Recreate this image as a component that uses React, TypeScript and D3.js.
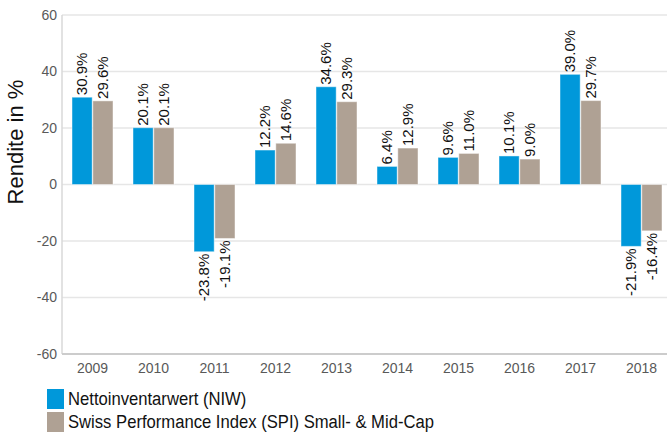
import React from 'react';
import * as d3 from 'd3';

const years = ['2009', '2010', '2011', '2012', '2013', '2014', '2015', '2016', '2017', '2018'];
const niw = [30.9, 20.1, -23.8, 12.2, 34.6, 6.4, 9.6, 10.1, 39.0, -21.9];
const spi = [29.6, 20.1, -19.1, 14.6, 29.3, 12.9, 11.0, 9.0, 29.7, -16.4];
const yTicks = [-60, -40, -20, 0, 20, 40, 60];
const seriesNames = ['Nettoinventarwert (NIW)', 'Swiss Performance Index (SPI) Small- & Mid-Cap'];
const seriesColors = ['#0098DA', '#AFA194'];

const width = 667;
const height = 432;
const font = 'Liberation Sans, Arial, sans-serif';

const App = () => {
  const x0 = d3.scaleBand<string>().domain(years).range([62, 672]);
  const x1 = d3.scaleBand<number>().domain([0, 1]).range([10, 51]).paddingInner(0.03);
  const y = d3.scaleLinear().domain([-60, 60]).range([354, 15]);
  const series = [niw, spi];

  return (
    <svg width={width} height={height} style={{ position: 'absolute', left: 0, top: 0, fontFamily: font }}>
      <rect width={width} height={height} fill="#fff" />
      {/* grid */}
      {yTicks.map((t) => (
        <g key={t}>
          {t !== -60 && (
            <line x1={62} x2={width} y1={y(t)} y2={y(t)} stroke="#e6e6e6" strokeWidth={1.5} />
          )}
          <text x={57} y={y(t)} dy="0.35em" textAnchor="end" fontSize={14} fill="#595959">
            {t}
          </text>
        </g>
      ))}
      <line x1={62} x2={62} y1={15} y2={354} stroke="#d9d9d9" strokeWidth={1.5} />
      <line x1={62} x2={width} y1={354} y2={354} stroke="#cccccc" strokeWidth={2} />

      {/* bars */}
      {years.map((yr, i) => (
        <g key={yr} transform={`translate(${x0(yr)},0)`}>
          {series.map((vals, s) => {
            const v = vals[i];
            const bx = x1(s)!;
            const bw = x1.bandwidth();
            const top = y(Math.max(0, v));
            const bot = y(Math.min(0, v));
            const cx = bx + bw / 2;
            const ly = v >= 0 ? top - 2 : bot + 2;
            return (
              <g key={s}>
                <rect x={bx} y={top} width={bw} height={bot - top} fill={seriesColors[s]}
                  stroke="#fff" strokeOpacity={0.45} strokeWidth={1} />
                <text transform={`translate(${cx},${ly}) rotate(-90)`} dy="0.35em"
                  textAnchor={v >= 0 ? 'start' : 'end'} fontSize={15} fill="#111">
                  {v.toFixed(1) + '%'}
                </text>
              </g>
            );
          })}
          <text x={x0.bandwidth() / 2} y={368} dy="0.35em" textAnchor="middle" fontSize={14} fill="#595959">
            {yr}
          </text>
        </g>
      ))}

      <text transform={`translate(23,142) rotate(-90)`} textAnchor="middle" fontSize={22} fill="#111">
        Rendite in %
      </text>

      {/* legend */}
      {seriesNames.map((n, s) => (
        <g key={n} transform={`translate(47,${389 + s * 23})`}>
          <rect width={17} height={20} fill={seriesColors[s]} />
          <text transform="translate(21,16) scale(0.9,1)" fontSize={18.5} fill="#111">{n}</text>
        </g>
      ))}
    </svg>
  );
};

export default App;
